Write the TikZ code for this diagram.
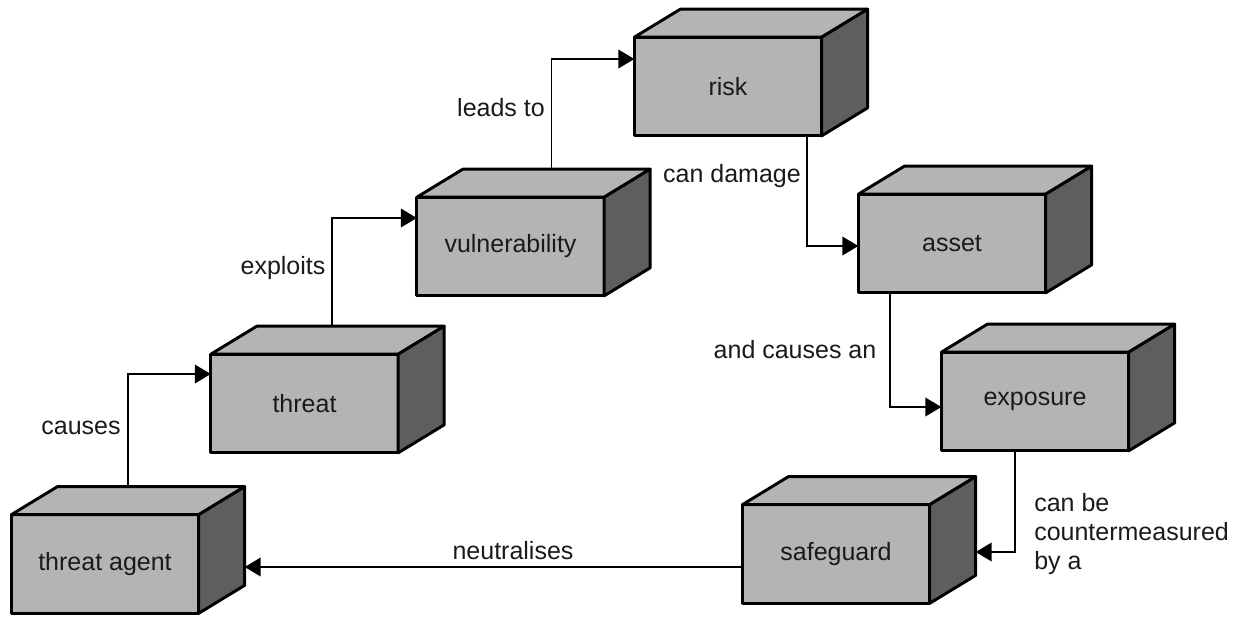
\documentclass[tikz,border=0pt]{standalone}
\usepackage{fontspec}
\setmainfont{Liberation Sans}
\usetikzlibrary{arrows.meta,calc}
\definecolor{face}{HTML}{B4B4B4}
\definecolor{side}{HTML}{5E5E5E}
\definecolor{ink}{HTML}{1A1A1A}
\tikzset{
  front/.style={draw=black, fill=face, line width=2.2pt, line join=round,
    minimum width=140.5pt, minimum height=74pt, inner sep=0pt, outer sep=0pt,
    text=ink, font=\fontsize{18.75}{21.75}\selectfont},
  cubeline/.style={draw=black, line width=2.2pt, line join=round},
  conn/.style={draw=black, line width=1.1pt, -{Triangle[length=12pt,width=14pt]}},
  lbl/.style={inner sep=0pt, text=ink, font=\fontsize{18.75}{22}\selectfont},
}
\newcommand\cubebox[4]{%
  \node[front] (#1) at (#2,#3) {#4};
  \coordinate (#1-bt) at ($(#1.north)+(23,-28)$);
  \coordinate (#1-side) at ($(#1.east)+(46,0)$);
  \draw[cubeline, fill=face] (#1.north west) -- ++(46,-28) -- ($(#1.north east)+(46,-28)$) -- (#1.north east) -- cycle;
  \draw[cubeline, fill=side] (#1.north east) -- ++(46,-28) -- ($(#1.south east)+(46,-28)$) -- (#1.south east) -- cycle;
}
\begin{document}
\begin{tikzpicture}[x=0.75pt, y=-0.75pt]
\useasboundingbox (0,0) rectangle (1244,619);
\cubebox{agent}{105}{564}{threat agent}
\cubebox{threat}{304.5}{403.5}{threat}
\cubebox{vuln}{510.5}{246.5}{vulnerability}
\cubebox{risk}{728}{86.5}{risk}
\cubebox{asset}{952}{243.5}{asset}
\cubebox{exposure}{1035}{401.5}{exposure}
\cubebox{safeguard}{836}{554}{safeguard}

\draw[conn] (agent-bt) |- ($(threat.west)+(0,-29.5)$);
\draw[conn] ($(threat-bt)+(4.5,0)$) |- ($(vuln.west)+(0,-28.5)$);
\draw[conn] ($(vuln-bt)+(18,0)$) |- ($(risk.west)+(0,-27.5)$);
\draw[conn] ($(risk.south)+(79,0)$) |- ($(asset.west)+(0,2.5)$);
\draw[conn] ($(asset.south)+(-62,0)$) |- ($(exposure.west)+(0,5.5)$);
\draw[conn] ($(exposure.south)+(-20,0)$) |- ($(safeguard-side)+(0,-2)$);
\draw[conn] ($(safeguard.west)+(0,13)$) -- ($(agent-side)+(0,3)$);

\node[lbl] (l-causes) at (81,428) {causes};
\node[lbl] (l-exploits) at (283,268) {exploits};
\node[lbl] (l-leads) at (501,108) {leads to};
\node[lbl] (l-damage) at (732,176) {can damage};
\node[lbl] (l-causesan) at (795,350) {and causes an};
\node[lbl, align=left, anchor=west] (l-counter) at (1034,534) {can be\\countermeasured\\by a};
\node[lbl] (l-neutral) at (513,551) {neutralises};
\end{tikzpicture}
\end{document}
